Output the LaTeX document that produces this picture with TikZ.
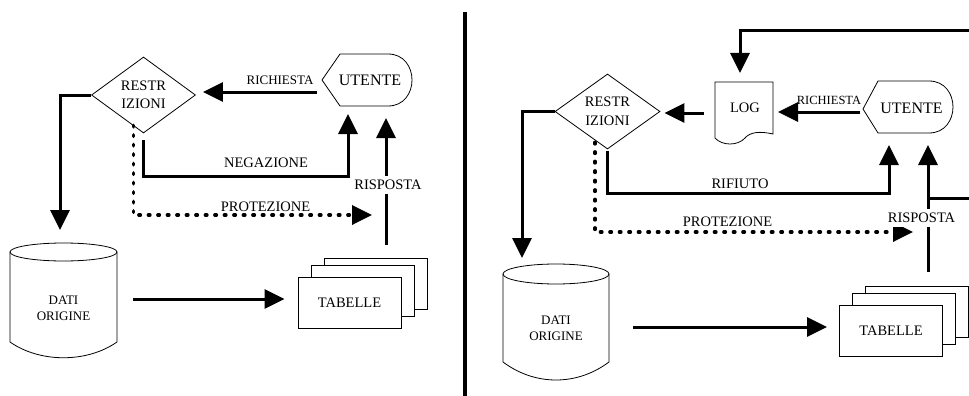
\documentclass[tikz,border=0pt]{standalone}
\usepackage{fontspec}
\setmainfont{Liberation Serif}
\usepackage{tikz}
\usetikzlibrary{arrows.meta,shapes.geometric,positioning,calc}
\tikzset{>={Triangle[length=20pt,width=19pt]}}
\newcommand\figlbl{\fontsize{14.5}{18.5}\selectfont}
\newcommand\figbig{\fontsize{16}{19}\selectfont}
\newcommand\figsmall{\fontsize{13}{16}\selectfont}
\tikzset{
  outline/.style={draw, line width=0.8pt},
  decision/.style={diamond, outline, aspect=1.36, inner sep=0pt,
    minimum width=104pt, minimum height=76pt, align=center, font=\figlbl},
  sheet/.style={rectangle, outline, fill=white, inner sep=0pt,
    minimum width=103pt, minimum height=51pt, font=\figlbl},
  flow/.style={line width=3pt, ->},
  guard/.style={line width=3.5pt, dash pattern=on 1.5pt off 8pt, line cap=round, ->},
  tag/.style={font=\figlbl, inner sep=1pt},
}

\begin{document}
\begin{tikzpicture}[x=1pt,y=-1pt]
  \useasboundingbox (0,0) rectangle (969,396);
  % divider
  \draw[line width=3.5pt] (465,12) -- (465,396);

  % left: without log
  \node[decision] (restrL) at (143.5,95) {RESTR\\IZIONI};
  \draw[outline] (322,80) -- (340,54) -- (388,54) .. controls (420,54) and (420,106) .. (388,106) -- (340,106) -- cycle;
  \node[font=\figbig] (utenteL) at (370,80) {UTENTE};
  \draw[outline] (10,252) -- (10,342) .. controls (40,363) and (87,363) .. (117,342) -- (117,252);
  \draw[outline] (63.5,252) ellipse [x radius=53.5, y radius=9];
  \node[font=\figsmall, align=center] (datiL) at (63.5,308) {DATI\\ORIGINE};
  \foreach \dx/\dy [count=\i] in {26/-19,13/-12}
    \node[sheet] (pileL\i) at (349.5+\dx,302.5+\dy) {};
  \node[sheet] (tabL) at (349.5,302.5) {TABELLE};

  \coordinate (reqL) at (317,92);
  \coordinate (inL) at (60,230);
  \coordinate (negL) at (348,114);
  \coordinate (protL) at (372,215);
  \coordinate (rispL) at (386,118);
  \coordinate (rispLfrom) at (386,245);
  \coordinate (dbLout) at (133,299);
  \draw[flow, shorten >=7pt] (reqL) -- (reqL -| restrL.east);
  \draw[flow] (restrL.west) -| (inL);
  \draw[flow] ([yshift=-7pt]restrL.south) -- ++(0,36) -| (negL);
  \draw[guard] ([xshift=-10pt,yshift=8pt]restrL.south) |- (protL);
  \draw[flow] (rispLfrom) -- (rispL);
  \draw[flow, shorten >=13pt] (dbLout) -- (dbLout -| tabL.west);
  \node[tag, font=\figsmall] (reqTxtL) at (280,80) {RICHIESTA};
  \node[tag] (negTxtL) at (266,163) {NEGAZIONE};
  \node[tag] (protTxtL) at (265.5,207) {PROTEZIONE};
  \node[tag, fill=white, inner ysep=4pt] (rispTxtL) at (388,185) {RISPOSTA};

  % right: with log
  \node[decision, minimum width=105pt, minimum height=75pt] (restrR) at (607.5,111.5) {RESTR\\IZIONI};
  \draw[outline] (715,82) -- (773,82) -- (773,134) .. controls (760,131) and (750,132) .. (745,138)
    .. controls (738,146) and (722,146) .. (715,138) -- cycle;
  \node[font=\figlbl] (logR) at (745,108) {LOG};
  \draw[outline] (863,109) -- (878,81) -- (929,81) .. controls (961,81) and (961,133) .. (929,133) -- (878,133) -- cycle;
  \node[font=\figbig] (utenteR) at (911.5,108) {UTENTE};
  \draw[outline] (503,274) -- (503,362) .. controls (535,386) and (577,386) .. (609,362) -- (609,274);
  \draw[outline] (556,274) ellipse [x radius=53, y radius=10];
  \node[font=\figsmall, align=center] (datiR) at (556,328.5) {DATI\\ORIGINE};
  \foreach \dx/\dy [count=\i] in {26/-19,13/-12}
    \node[sheet] (pileR\i) at (891+\dx,330.5+\dy) {};
  \node[sheet] (tabR) at (891,330.5) {TABELLE};

  \coordinate (reqR) at (860,112);
  \coordinate (logOut) at (704,113);
  \coordinate (fbR) at (969,31);
  \coordinate (logIn) at (740,73);
  \coordinate (inR) at (522,258);
  \coordinate (rifR) at (889,145);
  \coordinate (protR) at (913,232);
  \coordinate (rispR) at (928,145);
  \coordinate (rispRfrom) at (928,272);
  \coordinate (rispRbr) at (928,198);
  \coordinate (edgeR) at (969,198);
  \coordinate (dbRout) at (633,327);
  \draw[flow, shorten >=5pt] (reqR) -- (reqR -| logR.east -| 773,0);
  \draw[flow, shorten >=4pt] (logOut) -- (logOut -| restrR.east);
  \draw[flow] (fbR) -| (logIn);
  \draw[flow] (restrR.west) -| (inR);
  \draw[flow] ([yshift=-2pt]restrR.south) -- ++(0,42) -| (rifR);
  \draw[guard] ([xshift=-12.5pt,yshift=7pt]restrR.south) |- (protR);
  \draw[flow] (rispRfrom) -- (rispR);
  \draw[line width=3pt] (rispRbr) -- (edgeR);
  \draw[flow, shorten >=12pt] (dbRout) -- (dbRout -| tabR.west);
  \node[tag, font=\fontsize{12.5}{15}\selectfont] (reqTxtR) at (829,100.5) {RICHIESTA};
  \node[tag] (rifTxtR) at (740,184) {RIFIUTO};
  \node[tag] (protTxtR) at (727.5,222) {PROTEZIONE};
  \node[tag, fill=white, inner ysep=4pt] (rispTxtR) at (921.5,218) {RISPOSTA};
\end{tikzpicture}
\end{document}
